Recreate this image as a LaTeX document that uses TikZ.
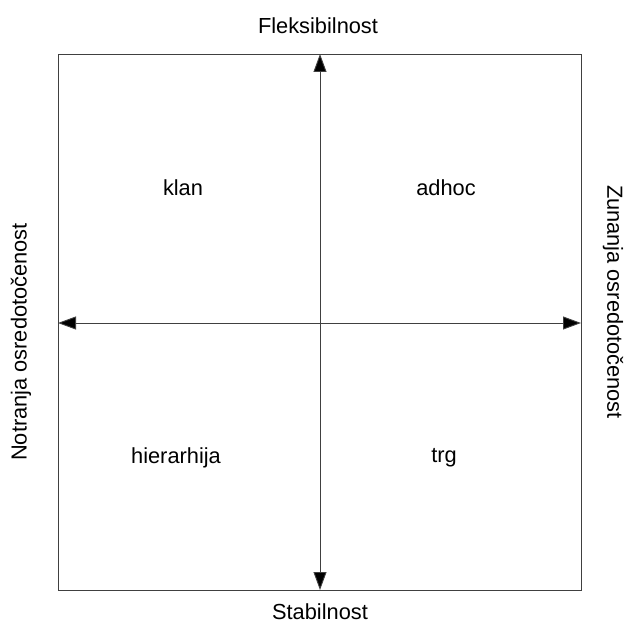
\documentclass[tikz,border=0pt]{standalone}
\usepackage{fontspec}
\setmainfont{Liberation Sans}
\usetikzlibrary{arrows.meta}
\begin{document}
\begin{tikzpicture}[x=1pt,y=-1pt,
  frame/.style={draw=black!75,line width=0.9pt},
  axis/.style={draw=black!75,line width=0.9pt,{Triangle[length=18pt,width=13pt,fill=black]}-{Triangle[length=18pt,width=13pt,fill=black]}},
  lbl/.style={font=\fontsize{21.8}{26}\selectfont,inner sep=0pt}]
\useasboundingbox (0,0) rectangle (624,628);
\coordinate (NW) at (58,54);
\coordinate (SE) at (581,590);
\coordinate (T) at (320,54);
\coordinate (B) at (320,590);
\coordinate (L) at (58,323);
\coordinate (R) at (581,323);
\draw[frame] (NW) rectangle (SE);
\draw[axis] (B) -- (T);
\draw[axis] (L) -- (R);
\node[lbl] (flex) at (318,26) {Fleksibilnost};
\node[lbl] (stab) at (320,612) {Stabilnost};
\node[lbl] (klan) at (183,188) {klan};
\node[lbl] (adhoc) at (446,188) {adhoc};
\node[lbl] (hier) at (176,458) {hierarhija};
\node[lbl] (trg) at (444,458) {trg};
\node[lbl,rotate=90] (notr) at (21,342) {Notranja osredotočenost};
\node[lbl,rotate=-90] (zun) at (613,302) {Zunanja osredotočenost};
\end{tikzpicture}
\end{document}
